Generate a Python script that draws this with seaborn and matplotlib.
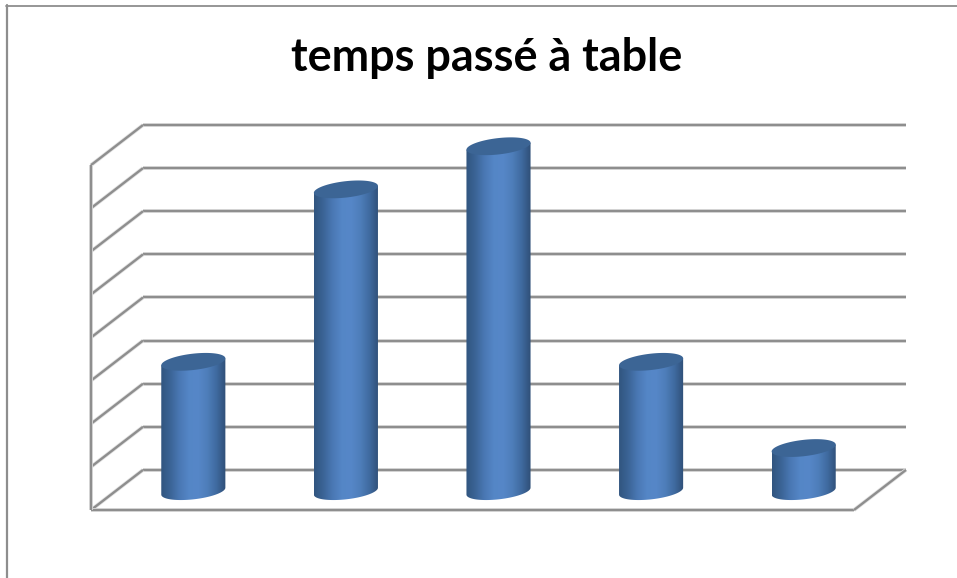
import seaborn as sns
import matplotlib.pyplot as plt
import matplotlib.patheffects as pe
import numpy as np
import pandas as pd
from matplotlib.colors import LinearSegmentedColormap
from matplotlib.patches import Polygon

title = "temps passé à table"
categories = [0, 1, 2, 3, 4]
values = [3, 7, 8, 3, 1]
grid_levels = [0, 1, 2, 3, 4, 5, 6, 7, 8]

W, H = 957, 578
sns.set_theme(style="white")
plt.rcParams["font.family"] = ["Lato", "DejaVu Sans"]

fig = plt.figure(figsize=(W / 100, H / 100), dpi=100, facecolor="white")

# plot box in pixels: front plane starts at x=91, y=510, back wall ends at x=906, y=125
ax = fig.add_axes([91 / W, 1 - 510 / H, (906 - 91) / W, (510 - 125) / H])
depth_x = 0.341
depth_y = 0.93
base = depth_y * 0.47
xlim = (-0.5, 4.5 + depth_x)
ylim = (0, 8 + depth_y)

grey = "#8e8e8e"
halo = [pe.withStroke(linewidth=2.8, foreground="#e2e2e2")]
line_kw = dict(color=grey, lw=1.7, clip_on=False, zorder=1, path_effects=halo, solid_capstyle="butt")

# back wall and side wall
for v in grid_levels:
    ax.plot([xlim[0] + depth_x, xlim[1]], [v + depth_y, v + depth_y], **line_kw)
    ax.plot([xlim[0], xlim[0] + depth_x], [v, v + depth_y], **line_kw)
# floor and left edge
ax.plot([xlim[0], xlim[1] - depth_x], [0, 0], **line_kw)
ax.plot([xlim[1] - depth_x, xlim[1]], [0, depth_y], **line_kw)
ax.plot([xlim[0], xlim[0]], [0, grid_levels[-1]], **line_kw)

df = pd.DataFrame({"pos": np.array(categories) + depth_x / 2, "value": values})
sns.barplot(data=df, x="pos", y="value", native_scale=True, width=0.42, bottom=base,
            color="#4f81bd", errorbar=None, ax=ax, zorder=2, linewidth=0, saturation=1)

# cylinder look on top of the bars
cyl = LinearSegmentedColormap.from_list(
    "cyl", ["#31557f", "#3b6496", "#4a78b4", "#5486c6", "#5687c8", "#4e7eba", "#3f6a9f", "#2f4f77"])
grad = np.linspace(0, 1, 256).reshape(1, -1)
t = np.linspace(0, 2 * np.pi, 120)
tilt = 0.08
half_h = 0.19

for bar in list(ax.patches):
    x0, w = bar.get_x(), bar.get_width()
    y0, h = bar.get_y(), bar.get_height()
    cx = x0 + w / 2
    bar.set_visible(False)
    tb = np.linspace(np.pi, 2 * np.pi, 60)
    arc_x = cx + w / 2 * np.cos(tb)
    arc_y = y0 + tilt * np.cos(tb) + half_h * np.sin(tb)
    pts = np.column_stack([
        np.r_[cx - w / 2, arc_x, cx + w / 2],
        np.r_[y0 + h - tilt, arc_y, y0 + h + tilt],
    ])
    body = Polygon(pts, closed=True, transform=ax.transData, facecolor="none", edgecolor="none")
    ax.add_patch(body)
    img = ax.imshow(grad, cmap=cyl, aspect="auto", extent=(x0, x0 + w, y0 - 0.4, y0 + h + 0.3),
                    zorder=3, interpolation="bilinear")
    img.set_clip_path(body)
    top_x = cx + w / 2 * np.cos(t)
    top_y = y0 + h + tilt * np.cos(t) + half_h * np.sin(t)
    ax.fill(top_x, top_y, color="#3c6595", lw=0, zorder=4)

ax.set_xlim(xlim)
ax.set_ylim(ylim)
ax.axis("off")

# outer frame of the picture, only top and left are visible
fig.add_artist(plt.Line2D([6.5 / W, 6.5 / W], [0, 1 - 5 / H], color=grey, lw=1.6))
fig.add_artist(plt.Line2D([6 / W, 1], [1 - 5.5 / H, 1 - 5.5 / H], color=grey, lw=1.3))

fig.text(486.5 / W, 1 - 58 / H, title, fontsize=32.4, fontweight="bold", color="black",
         ha="center", va="center")

fig.savefig("out.png", dpi=100)
